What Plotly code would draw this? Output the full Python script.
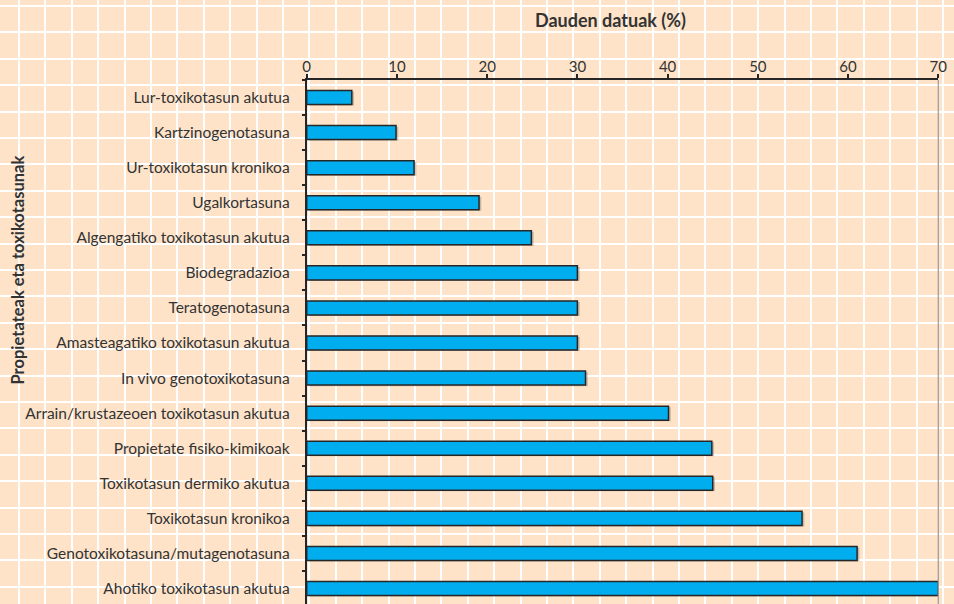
import plotly.graph_objects as go

categories = [
    "Lur-toxikotasun akutua",
    "Kartzinogenotasuna",
    "Ur-toxikotasun kronikoa",
    "Ugalkortasuna",
    "Algengatiko toxikotasun akutua",
    "Biodegradazioa",
    "Teratogenotasuna",
    "Amasteagatiko toxikotasun akutua",
    "In vivo genotoxikotasuna",
    "Arrain/krustazeoen toxikotasun akutua",
    "Propietate fisiko-kimikoak",
    "Toxikotasun dermiko akutua",
    "Toxikotasun kronikoa",
    "Genotoxikotasuna/mutagenotasuna",
    "Ahotiko toxikotasun akutua",
]
values = [5.0, 9.9, 11.9, 19.1, 24.9, 30.0, 30.0, 30.0, 30.9, 40.1, 44.9, 45.0, 54.9, 61.0, 70.0]
x_ticks = [0, 10, 20, 30, 40, 50, 60, 70]
x_title = "Dauden datuak (%)"
y_title = "Propietateak eta toxikotasunak"

W, H = 954, 604
BG = "#FEE3C9"
TEXT = "#333333"
FONT = "Lato, 'Open Sans', sans-serif"

fig = go.Figure()

# invisible trace to keep the background "graph paper" subplot
fig.add_trace(go.Scatter(x=[None], y=[None], xaxis="x", yaxis="y",
                         showlegend=False, hoverinfo="skip"))

# bar shadow
fig.add_trace(go.Bar(
    x=values, y=categories, orientation="h", base=0.25,
    width=0.4, offset=-0.17,
    marker=dict(color="rgba(60,60,60,0.28)", line=dict(width=0)),
    xaxis="x2", yaxis="y2", showlegend=False, hoverinfo="skip",
))
# bars
fig.add_trace(go.Bar(
    x=values, y=categories, orientation="h",
    width=0.4,
    marker=dict(color="#00AEEF", line=dict(color="#262626", width=1.5)),
    xaxis="x2", yaxis="y2", showlegend=False,
))

x0_px, x1_px, ytop_px = 306.7, 938.3, 80
px_per_cat = 35.07
ybottom_val = -0.5 + (H - ytop_px) / px_per_cat

fig.update_layout(
    width=W, height=H, autosize=False,
    margin=dict(l=0, r=0, t=0, b=0, pad=0),
    paper_bgcolor=BG, plot_bgcolor="rgba(0,0,0,0)",
    barmode="overlay",
    font=dict(family=FONT, size=15.5, color=TEXT),
    xaxis=dict(domain=[0, 1], range=[0, W], tick0=19, dtick=26.4,
               showgrid=True, gridcolor="white", gridwidth=2,
               showticklabels=False, zeroline=False, showline=False, ticks=""),
    yaxis=dict(domain=[0, 1], range=[H, 0], tick0=6, dtick=26.4,
               showgrid=True, gridcolor="white", gridwidth=2,
               showticklabels=False, zeroline=False, showline=False, ticks=""),
    xaxis2=dict(domain=[x0_px / W, x1_px / W], anchor="y2", side="top",
                range=[0, 70], tickvals=x_ticks, ticktext=[str(v) for v in x_ticks],
                showgrid=False, zeroline=False, automargin=False,
                showline=True, linecolor="#262626", linewidth=2,
                ticks="outside", ticklen=4, tickwidth=2, tickcolor="#262626",
                ticklabelstandoff=-4,
                tickfont=dict(size=15, color=TEXT)),
    yaxis2=dict(domain=[0, 1 - ytop_px / H], anchor="x2",
                type="category", categoryorder="array", categoryarray=categories,
                range=[ybottom_val, -0.5], automargin=False,
                showgrid=False, zeroline=False,
                showline=True, linecolor="#262626", linewidth=2,
                ticks="outside", tickson="boundaries", ticklen=3, tickwidth=2,
                tickcolor="#262626", ticklabelstandoff=12,
                tickfont=dict(size=15.5, color=TEXT)),
    shapes=[dict(type="line", xref="x2 domain", yref="y2 domain",
                 x0=1, x1=1, y0=0, y1=1,
                 line=dict(color="#9a9a9a", width=1.2))],
    annotations=[
        dict(text="<b>" + x_title + "</b>", xref="paper", yref="paper",
             x=610 / W, y=1 - 20 / H, showarrow=False,
             font=dict(size=18, color=TEXT), xanchor="center", yanchor="middle"),
        dict(text="<b>" + y_title + "</b>", xref="paper", yref="paper",
             x=17.5 / W, y=1 - 270 / H, showarrow=False, textangle=-90,
             font=dict(size=16.5, color=TEXT), xanchor="center", yanchor="middle"),
    ],
)

fig.write_html("out.html",
               config={"displayModeBar": False, "responsive": False},
               post_script="document.body.style.margin='0';document.body.style.overflow='hidden';")
